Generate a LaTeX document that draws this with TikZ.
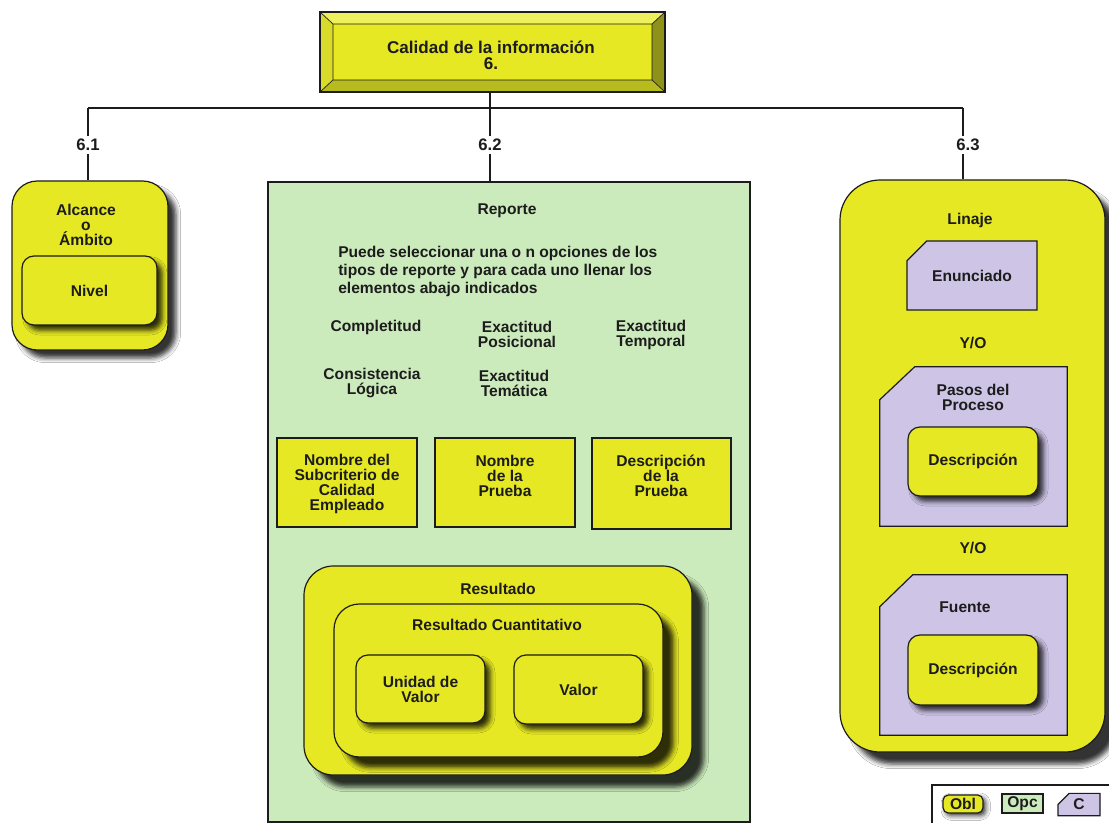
\documentclass[tikz,border=0pt]{standalone}
\usepackage{fontspec}
\setmainfont{Liberation Sans}
\usetikzlibrary{shapes.misc,shadows.blur}
\definecolor{yel}{HTML}{E6E823}
\definecolor{grn}{HTML}{CCEBBD}
\definecolor{lav}{HTML}{CDC4E6}
\definecolor{ink}{HTML}{1C1C1C}
\definecolor{bevT}{HTML}{EDEF5C}
\definecolor{bevL}{HTML}{D8DB2A}
\definecolor{bevR}{HTML}{8E9219}
\definecolor{bevB}{HTML}{B8BB1D}
\def\PX{0.75pt}
\tikzset{
  txt/.style={font=\bfseries\fontsize{11.7}{11.2}\selectfont, text=ink, align=center, inner sep=0pt},
  bigtxt/.style={font=\bfseries\fontsize{12.8}{12}\selectfont, text=ink, align=center, inner sep=0pt},
  numlbl/.style={font=\bfseries\fontsize{12.5}{12}\selectfont, text=ink, fill=white, inner sep=2pt},
  boxsize/.style 2 args={minimum width=#1*\PX, minimum height=#2*\PX, inner sep=0pt},
  shd/.style={blur shadow={shadow xshift=#1, shadow yshift=-#1, shadow opacity=80, shadow blur radius=3.5pt}},
  obl/.style={draw=ink, line width=0.9pt, fill=yel, rounded corners=#1},
  opc/.style={draw=ink, line width=0.9pt, fill=grn},
  sqobl/.style={draw=ink, line width=0.9pt, fill=yel},
  cond/.style 2 args={draw=ink, line width=0.9pt, fill=lav, chamfered rectangle,
     chamfered rectangle corners=north west,
     chamfered rectangle xsep=#1*\PX, chamfered rectangle ysep=#2*\PX},
  condpath/.style={draw=ink, line width=0.9pt, fill=lav},
  conn/.style={draw=ink, line width=0.9pt},
}
\begin{document}
\begin{tikzpicture}[x=0.75pt, y=-0.75pt]
\clip (0,0) rectangle (1109,823);
\fill[white] (0,0) rectangle (1109,823);

% ---- title bevelled box ----
\fill[bevT] (320,12) -- (665,12) -- (652,24) -- (333,24) -- cycle;
\fill[bevL] (320,12) -- (333,24) -- (333,80) -- (320,92) -- cycle;
\fill[bevR] (665,12) -- (665,92) -- (652,80) -- (652,24) -- cycle;
\fill[bevB] (320,92) -- (665,92) -- (652,80) -- (333,80) -- cycle;
\fill[yel] (333,24) rectangle (652,80);
\draw[ink, line width=0.5pt] (333,24) rectangle (652,80)
  (320,12) -- (333,24) (665,12) -- (652,24) (320,92) -- (333,80) (665,92) -- (652,80);
\node[boxsize={345}{80}, draw=ink, line width=1pt] (title) at (492.5,52) {};
\node[bigtxt] (titlet) at (491,55.5) {Calidad de la información\\6.};

% ---- connectors ----
\coordinate (busL) at (88,108);
\coordinate (busM) at (490,108);
\coordinate (busR) at (963,108);

% ---- 6.1 ----
\node[obl=19pt, shd=6pt, boxsize={156}{169}] (b61) at (90,265.5) {};
\node[txt] (t61) at (86,225) {Alcance\\o\\Ámbito};
\node[obl=9pt, shd=4pt, boxsize={135}{69}, txt] (nivel) at (89.5,290.5) {Nivel};

% ---- 6.2 ----
\node[opc, boxsize={482}{640}] (b62) at (509,502) {};
\node[txt] (reporte) at (507,210.5) {Reporte};
\node[txt, align=left, anchor=west, font=\bfseries\fontsize{11.7}{13.5}\selectfont] (para) at (338,271)
  {Puede seleccionar una o n opciones de los\\tipos de reporte y para cada uno llenar los\\elementos abajo indicados};
\node[txt] (compl) at (376,327.5) {Completitud};
\node[txt] (expos) at (517,334) {Exactitud\\Posicional};
\node[txt] (extem) at (651,334.5) {Exactitud\\Temporal};
\node[txt] (consis) at (372,383) {Consistencia\\Lógica};
\node[txt] (extema) at (514,383) {Exactitud\\Temática};

\node[sqobl, boxsize={140}{89}] (n1) at (347,482.5) {};
\node[sqobl, boxsize={140}{89}] (n2) at (505,482.5) {};
\node[sqobl, boxsize={139}{91}] (n3) at (661.5,483.5) {};
\node[txt] (n1t) at (347,484) {Nombre del\\Subcriterio de\\Calidad\\Empleado};
\node[txt] (n2t) at (505,476) {Nombre\\de la\\Prueba};
\node[txt] (n3t) at (661,476) {Descripción\\de la\\Prueba};

\node[obl=22pt, shd=9pt, boxsize={388}{209}] (res) at (498,670.5) {};
\node[txt] (rest) at (498,589) {Resultado};
\node[obl=19pt, shd=8pt, boxsize={329}{153}] (rc) at (498.5,680.5) {};
\node[txt] (rct) at (497,625) {Resultado Cuantitativo};
\node[obl=9pt, shd=4pt, boxsize={129}{68}, txt] (uv) at (420.5,689) {Unidad de\\Valor};
\node[obl=9pt, shd=4pt, boxsize={129}{69}, txt] (val) at (578.5,689.5) {Valor};

% ---- 6.3 ----
\node[obl=30pt, shd=9pt, boxsize={265}{572}] (b63) at (972.5,466) {};
\node[txt] (linaje) at (970,220) {Linaje};
\node[cond={21}{14}, boxsize={130}{69}, txt] (enun) at (972,275.5) {Enunciado};
\node[txt] (yo1) at (973,343) {Y/O};
\node[boxsize={187}{159}] (pasos) at (973.5,446.5) {};
\path[condpath] ([yshift=-33*\PX]pasos.north west) -- ([xshift=35*\PX]pasos.north west)
  -- (pasos.north east) -- (pasos.south east) -- (pasos.south west) -- cycle;
\node[txt] (pasost) at (973,397) {Pasos del\\Proceso};
\node[obl=9pt, shd=4pt, boxsize={130}{69}, txt] (d1) at (973,461.5) {Descripción};
\node[txt] (yo2) at (973,548) {Y/O};
\node[boxsize={187}{160}] (fuente) at (973.5,655) {};
\path[condpath] ([yshift=-32*\PX]fuente.north west) -- ([xshift=33*\PX]fuente.north west)
  -- (fuente.north east) -- (fuente.south east) -- (fuente.south west) -- cycle;
\node[txt] (fuentet) at (965,607) {Fuente};
\node[obl=9pt, shd=4pt, boxsize={130}{70}, txt] (d2) at (973,670) {Descripción};

% ---- connector lines ----
\draw[conn] (busM |- title.south) -- (busM);
\draw[conn] (busL) -- (busR);
\draw[conn] (busL) -- (busL |- b61.north);
\draw[conn] (busM) -- (busM |- b62.north);
\draw[conn] (busR) -- (busR |- b63.north);
\node[numlbl] (l61) at (88,145) {6.1};
\node[numlbl] (l62) at (490,145) {6.2};
\node[numlbl] (l63) at (968,145) {6.3};

% ---- legend ----
\node[draw=ink, line width=0.9pt, fill=white, boxsize={190}{50}] (legend) at (1027,810) {};
\node[obl=4pt, shd=2pt, boxsize={40}{18}, txt] (lobl) at (963,804) {Obl};
\node[opc, boxsize={41}{19}, txt] (lopc) at (1022.5,803.5) {Opc};
\node[cond={8}{6}, boxsize={42}{21}, txt] (lc) at (1079,804.5) {C};
\end{tikzpicture}
\end{document}
